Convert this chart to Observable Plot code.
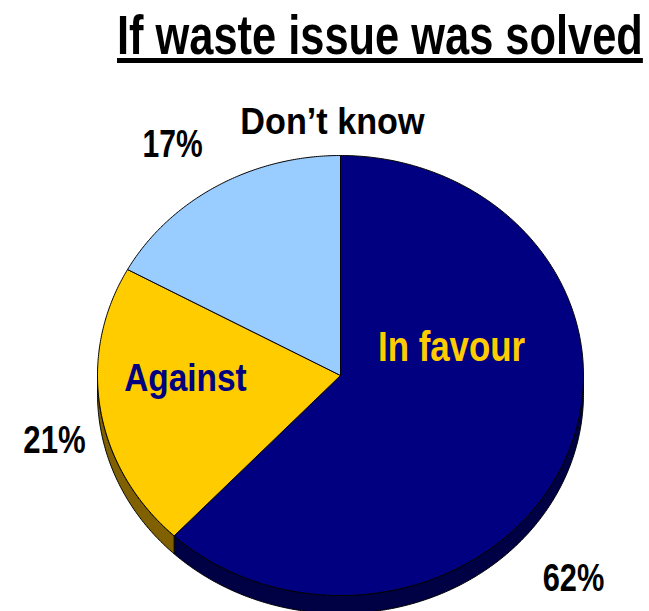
<!DOCTYPE html>
<html>
<head>
<meta charset="utf-8">
<script src="https://cdn.jsdelivr.net/npm/d3@7"></script>
<script src="https://cdn.jsdelivr.net/npm/@observablehq/plot@0.6"></script>
<style>
  html, body { margin: 0; padding: 0; background: #fff; }
  body { width: 649px; height: 611px; overflow: hidden; position: relative; }
  #title {
    position: absolute; left: 117px; top: 0px; height: 70px;
    font-family: "Liberation Sans", Arial, sans-serif;
    font-weight: bold; font-size: 56px; line-height: 70px; color: #000;
    text-decoration: underline; text-decoration-thickness: 5px; text-underline-offset: 4px;
    white-space: nowrap;
    transform: scaleX(0.775); transform-origin: 0 0;
  }
  #chart { position: absolute; left: 0; top: 70px; }
</style>
</head>
<body>
<div id="title">If waste issue was solved</div>
<div id="chart"></div>
<script>
const categories = ["In favour", "Against", "Don’t know"];
const values = [62, 21, 17];
const percentLabels = ["62%", "21%", "17%"];
const topColors = ["#000080", "#FFCC00", "#99CCFF"];
const sideColors = ["#000044", "#806000", "#4d6680"];

const FONT = "'Liberation Sans', Arial, sans-serif";
const depth = 18 / 220; // side thickness in y units

const total = d3.sum(values);
let acc = 0;
const slices = values.map((v, i) => {
  const a0 = acc / total * 360;
  acc += v;
  const a1 = acc / total * 360;
  return {name: categories[i], a0, a1, top: topColors[i], side: sideColors[i]};
});

const rad = d => d * Math.PI / 180;
const pt = (a, dy = 0) => ({x: Math.sin(rad(a)), y: Math.cos(rad(a)) - dy});

function arcPoints(a0, a1, dy = 0) {
  const pts = [];
  const n = Math.max(2, Math.ceil((a1 - a0) / 0.5));
  for (let k = 0; k <= n; k++) pts.push(pt(a0 + (a1 - a0) * k / n, dy));
  return pts;
}

const marks = [];
// side walls (visible from 90° to 270°, clockwise from top)
for (const s of slices) {
  const lo = Math.max(s.a0, 90), hi = Math.min(s.a1, 270);
  if (hi <= lo) continue;
  const poly = [...arcPoints(lo, hi), ...arcPoints(lo, hi, depth).reverse()];
  poly.push(poly[0]);
  marks.push(Plot.line(poly, {x: "x", y: "y", fill: s.side, stroke: "#000", strokeWidth: 1, strokeLinejoin: "round"}));
}
// top faces
for (const s of slices) {
  const poly = [{x: 0, y: 0}, ...arcPoints(s.a0, s.a1), {x: 0, y: 0}];
  marks.push(Plot.line(poly, {x: "x", y: "y", fill: s.top, stroke: "#000", strokeWidth: 1, strokeLinejoin: "round"}));
}

// inside labels
marks.push(Plot.text([categories[0]], {x: [0.457], y: [0.127], text: d => d, fill: "#FFCC00", fontSize: 42, fontWeight: "bold", fontFamily: FONT}));
marks.push(Plot.text([categories[1]], {x: [-0.638], y: [-0.016], text: d => d, fill: "#000080", fontSize: 38, fontWeight: "bold", fontFamily: FONT}));
marks.push(Plot.text([categories[2]], {x: [-0.033], y: [1.148], text: d => d, fill: "#000", fontSize: 36, fontWeight: "bold", fontFamily: FONT}));
// percentages
marks.push(Plot.text(percentLabels, {x: [0.959, -1.177, -0.691], y: [-0.925, -0.295, 1.05], text: d => d, fill: "#000", fontSize: 38, fontWeight: "bold", fontFamily: FONT}));

const chart = Plot.plot({
  width: 649,
  height: 541,
  marginLeft: 97,
  marginRight: 66,
  marginTop: 85,
  marginBottom: 16,
  x: {domain: [-1, 1], axis: null},
  y: {domain: [-1, 1], axis: null},
  style: {background: "transparent", overflow: "visible"},
  marks
});

// condensed (Arial Narrow-like) look: horizontal squeeze per label
const squeeze = {"In favour": 0.83, "Against": 0.88, "Don’t know": 0.95, "62%": 0.81, "21%": 0.82, "17%": 0.79};
chart.querySelectorAll("text").forEach(t => {
  const s = squeeze[t.textContent];
  if (s == null || s === 1) return;
  const x = +(t.getAttribute("x") || 0);
  const tr = t.getAttribute("transform") || "";
  t.setAttribute("transform", `${tr} translate(${x} 0) scale(${s} 1) translate(${-x} 0)`);
});
document.getElementById("chart").appendChild(chart);
</script>
</body>
</html>
